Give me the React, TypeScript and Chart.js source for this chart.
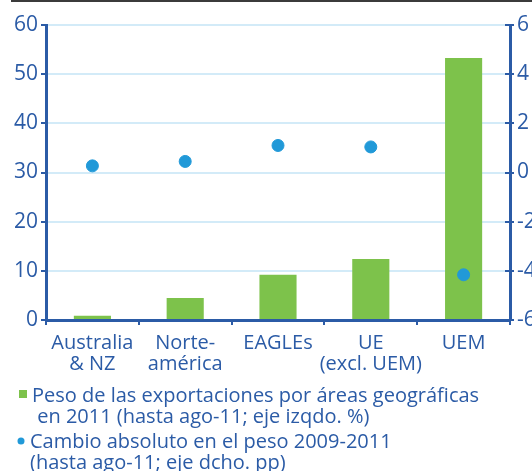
import React, { useEffect, useRef } from "react";
import { Chart, registerables } from "chart.js";

Chart.register(...registerables);

const categories: (string | string[])[] = [
  ["Australia", "& NZ"],
  ["Norte-", "américa"],
  "EAGLEs",
  ["UE", "(excl. UEM)"],
  "UEM",
];
const exportShare = [0.85, 4.5, 9.2, 12.4, 53.3];
const weightChange = [0.27, 0.45, 1.1, 1.04, -4.16];
const legendBars = ["Peso de las exportaciones por áreas geográficas", " en 2011 (hasta ago-11; eje izqdo. %)"];
const legendDots = ["Cambio absoluto en el peso 2009-2011", "(hasta ago-11; eje dcho. pp)"];

const AXIS = "#2b5ba6";
const GRID = "#d3ebf8";
const GREEN = "#7dc24b";
const DOT = "#2199d8";
const FONT = "'Open Sans', sans-serif";

export default function App() {
  const ref = useRef<HTMLCanvasElement | null>(null);
  useEffect(() => {
    if (!ref.current) return;
    const legendPlugin = {
      id: "customLegend",
      afterDraw(chart: any) {
        const ctx = chart.ctx;
        const b = chart.chartArea.bottom;
        ctx.save();
        // inward tick marks on the right axis
        const s = chart.scales.y1;
        ctx.strokeStyle = AXIS;
        ctx.lineWidth = 2;
        s.ticks.forEach((t: any) => {
          const py = Math.round(s.getPixelForValue(t.value));
          ctx.beginPath();
          ctx.moveTo(s.left - 5, py);
          ctx.lineTo(s.left, py);
          ctx.stroke();
        });
        ctx.font = `500 20px ${FONT}`;
        ctx.fillStyle = AXIS;
        ctx.textBaseline = "alphabetic";
        ctx.textAlign = "left";
        ctx.fillText(legendBars[0], 32, b + 82);
        ctx.fillText(legendBars[1], 32, b + 103);
        ctx.fillText(legendDots[0], 30, b + 128);
        ctx.fillText(legendDots[1], 30, b + 149);
        ctx.fillStyle = GREEN;
        ctx.fillRect(19, b + 70, 8, 8);
        ctx.fillStyle = DOT;
        ctx.beginPath();
        ctx.arc(21, b + 121, 3.5, 0, Math.PI * 2);
        ctx.fill();
        ctx.restore();
      },
    };
    const chart = new Chart(ref.current, {
      type: "bar",
      data: {
        labels: categories,
        datasets: [
          {
            type: "scatter" as any,
            label: "Cambio absoluto",
            data: weightChange as any,
            yAxisID: "y1",
            backgroundColor: DOT,
            borderColor: DOT,
            pointRadius: 6,
            showLine: false,
          },
          {
            type: "bar",
            label: "Peso",
            data: exportShare,
            yAxisID: "y",
            backgroundColor: GREEN,
            barPercentage: 0.4,
            categoryPercentage: 1,
          },
        ],
      },
      options: {
        animation: false,
        responsive: false,
        maintainAspectRatio: false,
        layout: { padding: { top: 25, left: 0, right: 0, bottom: 0 } },
        plugins: { legend: { display: false }, tooltip: { enabled: false } },
        scales: {
          x: {
            type: "category",
            offset: true,
            grid: {
              display: true,
              offset: true,
              drawOnChartArea: false,
              drawTicks: true,
              tickLength: 5,
              color: AXIS,
              lineWidth: 2,
            },
            border: { display: true, color: AXIS, width: 3 },
            ticks: {
              color: AXIS,
              font: { family: FONT, size: 20, weight: "500", lineHeight: 1.08 },
              padding: 7,
              maxRotation: 0,
              autoSkip: false,
            },
            afterFit(s: any) {
              s.height = 151;
            },
          },
          y: {
            position: "left",
            min: 0,
            max: 60,
            ticks: {
              stepSize: 10,
              color: AXIS,
              font: { family: FONT, size: 21, weight: "500" },
              padding: 3,
            },
            grid: { color: GRID, lineWidth: 2, tickColor: AXIS, tickLength: 5, tickWidth: 2 },
            border: { color: AXIS, width: 3 },
            afterFit(s: any) {
              s.width = 46;
            },
          },
          y1: {
            position: "right",
            min: -6,
            max: 6,
            ticks: {
              stepSize: 2,
              color: AXIS,
              font: { family: FONT, size: 21, weight: "500" },
              padding: 3,
            },
            grid: { drawOnChartArea: false, tickColor: AXIS, tickLength: 4, lineWidth: 2 },
            border: { color: AXIS, width: 3 },
            afterFit(s: any) {
              s.width = 30;
            },
          },
        },
      },
      plugins: [legendPlugin],
    });
    return () => chart.destroy();
  }, []);
  return (
    <div style={{ position: "fixed", left: 0, top: 0, width: 532, height: 471, overflow: "hidden", background: "#fff" }}>
      <div style={{ position: "absolute", left: 11, top: 0, width: 530, height: 2, background: "#3b3b3b", zIndex: 1 }} />
      <canvas ref={ref} width={540} height={471} style={{ display: "block", width: 540, height: 471 }} />
    </div>
  );
}
